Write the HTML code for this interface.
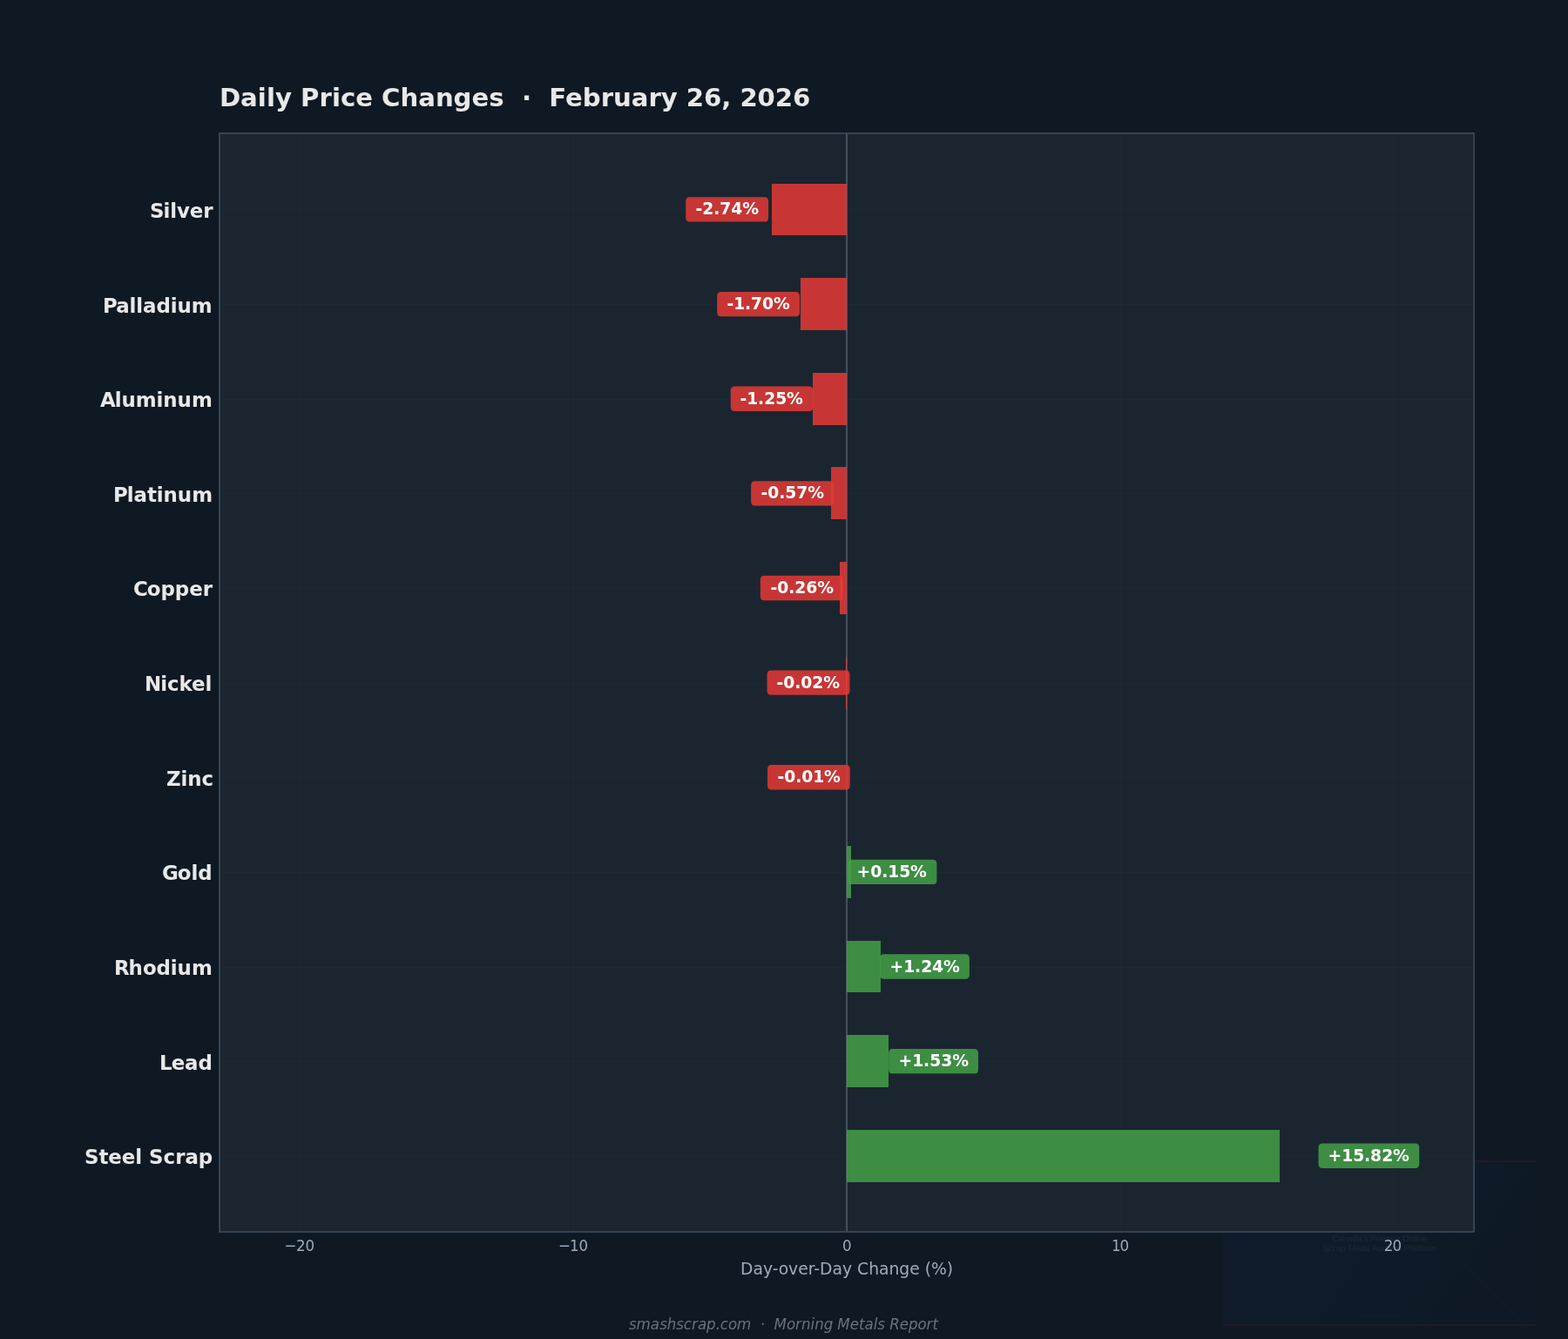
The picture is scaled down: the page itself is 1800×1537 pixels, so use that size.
<!DOCTYPE html>
<html lang="en">
<head>
<meta charset="utf-8">
<title>Daily Price Changes · February 26, 2026</title>
<style>
  html, body { margin: 0; padding: 0; background: #0f1923; }
  body { width: 1800px; height: 1537px; overflow: hidden; }
  svg { display: block; }
  text { font-family: "DejaVu Sans", "Liberation Sans", sans-serif; white-space: pre; }
  .title { font-size: 29.1667px; font-weight: bold; fill: #e8e8e8; }
  .ylab { font-size: 22.9167px; font-weight: bold; fill: #e8e8e8; }
  .val { font-size: 18.75px; font-weight: bold; fill: #ffffff; }
  .xtick { font-size: 16.6667px; fill: #9dabbd; }
  .xlabel { font-size: 18.75px; fill: #9dabbd; }
  .foot { font-size: 16.6667px; font-style: italic; fill: #687382; }
  .wm { font-family: "Liberation Sans", "DejaVu Sans", sans-serif; text-anchor: middle; text-rendering: geometricPrecision; fill: #c4d2f0; stroke: #c4d2f0; stroke-width: 0.12px; }
</style>
</head>
<body>
<svg width="1800" height="1537" viewBox="0 0 1800 1537">
<rect x="0" y="0" width="1800" height="1537" fill="#0f1923"/>
<defs>
<linearGradient id="wmg" x1="0" y1="0" x2="1" y2="0.35">
<stop offset="0" stop-color="#103872"/>
<stop offset="0.55" stop-color="#0f2c58"/>
<stop offset="1" stop-color="#0d1f3c"/>
</linearGradient>
<filter id="wmb" x="-5%" y="-20%" width="110%" height="140%"><feGaussianBlur stdDeviation="0.35"/></filter>
</defs>
<g opacity="0.1">
<rect x="1404" y="1332" width="360" height="190" fill="url(#wmg)"/>
<rect x="1404" y="1332" width="360" height="2" fill="#cc2c50" shape-rendering="crispEdges"/>
<rect x="1404" y="1520" width="360" height="2" fill="#cc2c50" shape-rendering="crispEdges"/>
<g stroke="#9fb4e0" stroke-opacity="0.13" stroke-width="1.2" fill="none">
<path d="M1620 1382L1764 1520M1610 1382.5L1749.5 1520M1404 1418L1508 1520M1404 1452L1474 1520"/>
</g>
<g filter="url(#wmb)" opacity="0.62">
<text class="wm" x="1583.8" y="1425.1" font-size="9.7" textLength="108.8" lengthAdjust="spacingAndGlyphs">Canada's Premier Online</text>
<text class="wm" x="1584" y="1436.1" font-size="9.7" textLength="131.2" lengthAdjust="spacingAndGlyphs">Scrap Metal Auction Platform</text>
<text class="wm" x="1584" y="1511.6" font-size="5.6" opacity="0.45">smashscrap.com</text>
</g>
</g>
<rect x="252" y="153" width="1440" height="1261" fill="#1b2530"/>
<g fill="#334455" fill-opacity="0.12" shape-rendering="crispEdges">
<rect x="344" y="153" width="1" height="1261"/>
<rect x="658" y="153" width="1" height="1261"/>
<rect x="972" y="153" width="1" height="1261"/>
<rect x="1286" y="153" width="1" height="1261"/>
<rect x="1600" y="153" width="1" height="1261"/>
<rect x="252" y="240" width="1440" height="1"/>
<rect x="252" y="349" width="1440" height="1"/>
<rect x="252" y="458" width="1440" height="1"/>
<rect x="252" y="566" width="1440" height="1"/>
<rect x="252" y="675" width="1440" height="1"/>
<rect x="252" y="784" width="1440" height="1"/>
<rect x="252" y="892" width="1440" height="1"/>
<rect x="252" y="1001" width="1440" height="1"/>
<rect x="252" y="1110" width="1440" height="1"/>
<rect x="252" y="1218" width="1440" height="1"/>
<rect x="252" y="1327" width="1440" height="1"/>
</g>
<rect x="971" y="153" width="2" height="1261" fill="#46515f" shape-rendering="crispEdges"/>
<g shape-rendering="crispEdges">
<rect x="886" y="211" width="86" height="59" fill="#e53935" fill-opacity="0.85"/>
<rect x="919" y="319" width="53" height="60" fill="#e53935" fill-opacity="0.85"/>
<rect x="933" y="428" width="39" height="60" fill="#e53935" fill-opacity="0.85"/>
<rect x="954" y="536" width="18" height="60" fill="#e53935" fill-opacity="0.85"/>
<rect x="964" y="645" width="8" height="60" fill="#e53935" fill-opacity="0.85"/>
<rect x="971" y="754" width="1" height="60" fill="#e53935" fill-opacity="0.85"/>
<rect x="972" y="971" width="5" height="60" fill="#43a047" fill-opacity="0.85"/>
<rect x="972" y="1080" width="39" height="59" fill="#43a047" fill-opacity="0.85"/>
<rect x="972" y="1188" width="48" height="60" fill="#43a047" fill-opacity="0.85"/>
<rect x="972" y="1297" width="497" height="60" fill="#43a047" fill-opacity="0.85"/>
</g>
<rect x="252" y="153" width="1440" height="1261" fill="none" stroke="#334455" stroke-width="2" shape-rendering="crispEdges"/>
<path d="M791.90 226.24H877.40Q882.09 226.24 882.09 230.93V249.93Q882.09 254.62 877.40 254.62H791.90Q787.21 254.62 787.21 249.93V230.93Q787.21 226.24 791.90 226.24Z" fill="#e53935" fill-opacity="0.85"/>
<text class="val" xml:space="preserve" transform="translate(798 246)" x="0.469 8.219 21.219 28.219 41.219 54.219" y="0">-2.74%</text>
<path d="M827.93 334.88H913.30Q917.99 334.88 917.99 339.57V358.57Q917.99 363.26 913.30 363.26H827.93Q823.24 363.26 823.24 358.57V339.57Q823.24 334.88 827.93 334.88Z" fill="#e53935" fill-opacity="0.85"/>
<text class="val" xml:space="preserve" transform="translate(834 355)" x="0.469 8.219 20.969 27.969 40.969 53.969" y="0">-1.70%</text>
<path d="M843.47 443.52H928.84Q933.53 443.52 933.53 448.21V467.21Q933.53 471.90 928.84 471.90H843.47Q838.78 471.90 838.78 467.21V448.21Q838.78 443.52 843.47 443.52Z" fill="#e53935" fill-opacity="0.85"/>
<text class="val" xml:space="preserve" transform="translate(849 464)" x="0.469 8.219 20.969 28.219 41.219 53.969" y="0">-1.25%</text>
<path d="M866.82 552.15H952.32Q957.01 552.15 957.01 556.84V575.84Q957.01 580.53 952.32 580.53H866.82Q862.13 580.53 862.13 575.84V556.84Q862.13 552.15 866.82 552.15Z" fill="#e53935" fill-opacity="0.85"/>
<text class="val" xml:space="preserve" transform="translate(873 572)" x="0.469 8.219 21.219 28.219 41.219 54.219" y="0">-0.57%</text>
<path d="M877.53 660.79H963.02Q967.71 660.79 967.71 665.48V684.48Q967.71 689.17 963.02 689.17H877.53Q872.84 689.17 872.84 684.48V665.48Q872.84 660.79 877.53 660.79Z" fill="#e53935" fill-opacity="0.85"/>
<text class="val" xml:space="preserve" transform="translate(884 681)" x="0.469 8.219 21.219 28.219 41.219 54.219" y="0">-0.26%</text>
<path d="M885.25 769.43H970.74Q975.43 769.43 975.43 774.12V793.12Q975.43 797.81 970.74 797.81H885.25Q880.56 797.81 880.56 793.12V774.12Q880.56 769.43 885.25 769.43Z" fill="#e53935" fill-opacity="0.85"/>
<text class="val" xml:space="preserve" transform="translate(891 790)" x="0.469 8.219 21.219 28.219 41.219 54.219" y="0">-0.02%</text>
<path d="M885.69 878.07H971.06Q975.75 878.07 975.75 882.76V901.76Q975.75 906.45 971.06 906.45H885.69Q881.00 906.45 881.00 901.76V882.76Q881.00 878.07 885.69 878.07Z" fill="#e53935" fill-opacity="0.85"/>
<text class="val" xml:space="preserve" transform="translate(892 898)" x="0.469 8.219 21.219 28.219 41.281 53.969" y="0">-0.01%</text>
<path d="M977.34 986.71H1070.71Q1075.40 986.71 1075.40 991.40V1010.40Q1075.40 1015.09 1070.71 1015.09H977.34Q972.65 1015.09 972.65 1010.40V991.40Q972.65 986.71 977.34 986.71Z" fill="#43a047" fill-opacity="0.85"/>
<text class="val" xml:space="preserve" transform="translate(983 1007)" x="0.469 16.219 29.219 36.219 49.156 61.969" y="0">+0.15%</text>
<path d="M1014.82 1095.34H1108.19Q1112.88 1095.34 1112.88 1100.03V1119.03Q1112.88 1123.72 1108.19 1123.72H1014.82Q1010.13 1123.72 1010.13 1119.03V1100.03Q1010.13 1095.34 1014.82 1095.34Z" fill="#43a047" fill-opacity="0.85"/>
<text class="val" xml:space="preserve" transform="translate(1021 1116)" x="0.469 16.219 28.969 36.219 48.969 61.969" y="0">+1.24%</text>
<path d="M1024.83 1203.98H1118.32Q1123.01 1203.98 1123.01 1208.67V1227.67Q1123.01 1232.36 1118.32 1232.36H1024.83Q1020.14 1232.36 1020.14 1227.67V1208.67Q1020.14 1203.98 1024.83 1203.98Z" fill="#43a047" fill-opacity="0.85"/>
<text class="val" xml:space="preserve" transform="translate(1031 1224)" x="0.469 16.219 28.969 36.219 49.219 62.219" y="0">+1.53%</text>
<path d="M1518.21 1312.62H1624.58Q1629.27 1312.62 1629.27 1317.31V1336.31Q1629.27 1341.00 1624.58 1341.00H1518.21Q1513.52 1341.00 1513.52 1336.31V1317.31Q1513.52 1312.62 1518.21 1312.62Z" fill="#43a047" fill-opacity="0.85"/>
<text class="val" xml:space="preserve" transform="translate(1524 1333)" x="0.469 16.219 29.156 41.969 48.969 62.219 74.969" y="0">+15.82%</text>
<text class="ylab" xml:space="preserve" transform="translate(171.4 250)" x="0.594 16.094 23.844 31.656 46.406 61.844" y="0">Silver</text>
<text class="ylab" xml:space="preserve" transform="translate(117.3 359)" x="0.719 15.969 31.219 38.969 46.781 62.219 78.469 86.219 102.469" y="0">Palladium</text>
<text class="ylab" xml:space="preserve" transform="translate(114.6 467)" x="0.406 17.156 24.906 41.156 64.906 72.656 88.906 105.406" y="0">Aluminum</text>
<text class="ylab" xml:space="preserve" transform="translate(129.3 576)" x="0.719 16.469 24.281 39.719 50.469 58.219 74.469 90.969" y="0">Platinum</text>
<text class="ylab" xml:space="preserve" transform="translate(152.5 684)" x="0.469 16.219 31.969 48.281 64.719 80.219" y="0">Copper</text>
<text class="ylab" xml:space="preserve" transform="translate(165.6 793)" x="0.406 18.656 26.406 39.906 54.406 69.906" y="0">Nickel</text>
<text class="ylab" xml:space="preserve" transform="translate(190.3 902)" x="0.719 17.219 24.969 41.219" y="0">Zinc</text>
<text class="ylab" xml:space="preserve" transform="translate(185.5 1010)" x="0.469 18.219 33.969 41.719" y="0">Gold</text>
<text class="ylab" xml:space="preserve" transform="translate(130.5 1119)" x="0.469 17.031 33.469 48.969 65.219 72.969 89.469" y="0">Rhodium</text>
<text class="ylab" xml:space="preserve" transform="translate(182.6 1228)" x="0.406 14.219 29.469 44.906" y="0">Lead</text>
<text class="ylab" xml:space="preserve" transform="translate(97 1336)" x="-0.031 16.469 27.281 42.719 58.219 66.125 73.969 90.469 104.219 115.469 130.719" y="0">Steel Scrap</text>
<text class="xtick" xml:space="preserve" transform="translate(326.8 1436) scale(1 1.09)" x="-0.344 13.156 23.719" y="0">−20</text>
<text class="xtick" xml:space="preserve" transform="translate(640.6 1436) scale(1 1.09)" x="0.406 13.344 23.906" y="0">−10</text>
<text class="xtick" xml:space="preserve" transform="translate(966.7 1436) scale(1 1.09)" x="0.281" y="0">0</text>
<text class="xtick" xml:space="preserve" transform="translate(1275.3 1436) scale(1 1.09)" x="0.719 10.219" y="0">10</text>
<text class="xtick" xml:space="preserve" transform="translate(1589.2 1436) scale(1 1.09)" x="-0.531 9.281" y="0">20</text>
<text class="xlabel" xml:space="preserve" transform="translate(850.3 1463)" x="-0.281 14.219 25.719 36.469 43.531 54.781 65.969 77.406 84.031 90.656 105.219 116.719 128.125 133.719 146.969 158.719 170.156 182.031 193.969 205.75 211.469 218.719 236.469" y="0">Day-over-Day Change (%)</text>
<text class="title" xml:space="preserve" transform="translate(252 122)" x="-0.031 23.969 43.719 53.906 63.969 83 92.969 114.469 128.906 138.969 156.219 176 186.094 207.469 228.219 247.969 268.469 289.469 309.219 326.625 336.75 346.969 358 368.125 378.219 396.969 416.719 437.719 451.906 472.719 492.406 506.656 525.75 535.844 555.969 576.219 587.375 597.469 617.469 637.844 657.969" y="0">Daily Price Changes  ·  February 26, 2026</text>
<text class="foot" xml:space="preserve" transform="translate(722.3 1526) scale(1 1.08)" x="-0.219 8.281 24.469 34.844 43.406 54.031 62.531 71.781 78.594 88.719 99.469 104.531 113.656 123.781 140.375 145.625 150.469 156.125 161.375 166.281 180.656 190.781 197.656 208.281 212.906 223.469 234.125 239.031 253.406 263.719 270.219 280.531 285.031 294 298.969 310.469 320.719 331.281 341.281 348.156" y="0">smashscrap.com  ·  Morning Metals Report</text>
</svg>
</body>
</html>
